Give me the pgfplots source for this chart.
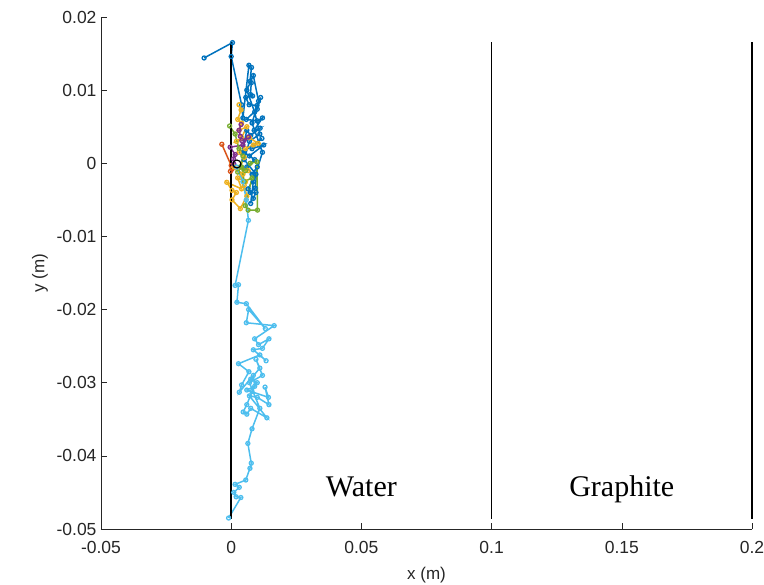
\documentclass[border=0pt]{standalone}
\usepackage{fontspec}
\setmainfont{Liberation Sans}
\newfontfamily\seriffont{Liberation Serif}
\usepackage{pgfplots}
\pgfplotsset{compat=1.18}

% MATLAB default line colours
\definecolor{mA}{rgb}{0,0.447,0.741}
\definecolor{mB}{rgb}{0.850,0.325,0.098}
\definecolor{mC}{rgb}{0.929,0.694,0.125}
\definecolor{mD}{rgb}{0.494,0.184,0.556}
\definecolor{mE}{rgb}{0.466,0.674,0.188}
\definecolor{mF}{rgb}{0.301,0.745,0.933}
\definecolor{axgray}{rgb}{0.15,0.15,0.15}

\begin{document}
\begin{tikzpicture}
\begin{axis}[
  at={(0,0)}, anchor=south west,
  scale only axis,
  width=651bp, height=512bp,
  xmin=-0.05, xmax=0.2, ymin=-0.05, ymax=0.02,
  axis x line*=bottom, axis y line*=left,
  axis line style={axgray, line width=0.6bp},
  tick align=inside,
  major tick length=6bp,
  tick style={axgray, line width=0.6bp},
  xtick={-0.05,0,0.05,0.1,0.15,0.2},
  ytick={-0.05,-0.04,-0.03,-0.02,-0.01,0,0.01,0.02},
  scaled ticks=false,
  /pgf/number format/fixed,
  /pgf/number format/precision=3,
  /pgf/number format/assume math mode=true,
  ticklabel style={font=\fontsize{17.5bp}{20bp}\selectfont, text=axgray},
  xticklabel style={yshift=-9bp},
  yticklabel style={xshift=-1bp},
  xlabel={x (m)}, ylabel={y (m)},
  label style={font=\fontsize{17bp}{20bp}\selectfont, text=axgray},
  x label style={at={(axis description cs:0.5,-0.0898)}, anchor=center},
  y label style={at={(axis description cs:-0.0937,0.5)}, anchor=center},
  clip=false,
  every axis plot/.append style={line width=1.5bp, mark=o, mark size=2bp, mark options={solid, line width=1.3bp}},
]

% track 1
\addplot[color=mA] coordinates {
(-0.0104,0.0144) (0.0005,0.0165) (0.0000,0.0146) (0.0040,0.0080) (0.0045,0.0062)
(0.0068,0.0134) (0.0078,0.0131) (0.0072,0.0112) (0.0077,0.0110) (0.0074,0.0094)
(0.0082,0.0092) (0.0056,0.0090) (0.0069,0.0080) (0.0099,0.0079) (0.0113,0.0090)
(0.0100,0.0074) (0.0058,0.0060) (0.0100,0.0058) (0.0120,0.0062) (0.0088,0.0045)
(0.0111,0.0048) (0.0075,0.0038) (0.0060,0.0045) (0.0041,0.0014) (0.0118,0.0034)
(0.0080,0.0020) (0.0125,0.0025) (0.0070,0.0010) (0.0050,0.0015) (0.0090,0.0005)
(0.0060,-0.0005) (0.0080,-0.0015) (0.0100,-0.0005) (0.0092,-0.0034) (0.0073,-0.0040)
(0.0095,-0.0040) (0.0085,-0.0048) (0.0065,-0.0035) (0.0095,-0.0015) (0.0050,0.0005)
(0.0070,0.0030) (0.0110,0.0040) (0.0090,0.0070) (0.0060,0.0100) (0.0085,0.0120)
(0.0105,0.0085) (0.0080,0.0055) (0.0120,0.0015) (0.0085,-0.0025) (0.0075,-0.0055)
};

% track 2
\addplot[color=mB] coordinates {
(-0.0036,0.0026) (0.0000,-0.0003) (0.0003,-0.0008) (-0.0003,-0.0011) (0.0010,-0.0005)
};

% track 3
\addplot[color=mC] coordinates {
(0.0030,0.0080) (0.0038,0.0073) (0.0025,0.0060) (0.0040,0.0055) (0.0030,0.0045)
(0.0060,0.0050) (0.0040,0.0035) (0.0020,0.0030) (0.0070,0.0035) (0.0104,0.0027)
(0.0085,0.0025) (0.0055,0.0020) (0.0030,0.0015) (0.0050,0.0008) (0.0035,-0.0005)
(0.0065,-0.0010) (0.0045,-0.0015) (0.0010,-0.0005) (0.0055,-0.0025) (0.0025,-0.0020)
(0.0040,-0.0035) (-0.0017,-0.0026) (0.0003,-0.0037) (0.0020,-0.0040) (0.0003,-0.0050)
(0.0035,-0.0062) (0.0060,-0.0045) (0.0050,-0.0030)
};

% track 4
\addplot[color=mD] coordinates {
(0.0038,0.0053) (0.0030,0.0045) (0.0035,0.0037) (0.0041,0.0031) (0.0066,0.0036)
(0.0045,0.0025) (-0.0004,0.0022) (0.0015,0.0012) (0.0009,0.0006) (0.0010,-0.0001)
};

% track 5
\addplot[color=mE] coordinates {
(-0.0006,0.0051) (0.0015,0.0040) (0.0030,0.0020) (0.0045,0.0010) (0.0035,-0.0005)
(0.0055,-0.0010) (0.0073,0.0000) (0.0099,0.0002) (0.0101,-0.0064) (0.0065,-0.0064)
(0.0054,-0.0058) (0.0080,-0.0020) (0.0050,-0.0025) (0.0040,-0.0005) (0.0025,-0.0012)
};

% track 6
\addplot[color=mF] coordinates {
(0.0020,-0.0005) (0.0045,-0.0025) (0.0058,-0.0050) (0.0066,-0.0078) (0.0015,-0.0167)
(0.0028,-0.0166) (0.0022,-0.0190) (0.0058,-0.0192) (0.0131,-0.0226) (0.0067,-0.0200)
(0.0058,-0.0218) (0.0165,-0.0222) (0.0090,-0.0240) (0.0105,-0.0248) (0.0145,-0.0240)
(0.0120,-0.0253) (0.0085,-0.0255) (0.0134,-0.0270) (0.0110,-0.0262) (0.0028,-0.0274)
(0.0068,-0.0285) (0.0040,-0.0303) (0.0031,-0.0313) (0.0085,-0.0290) (0.0090,-0.0305)
(0.0060,-0.0310) (0.0143,-0.0320) (0.0130,-0.0306) (0.0145,-0.0330) (0.0100,-0.0320)
(0.0070,-0.0318) (0.0137,-0.0348) (0.0075,-0.0335) (0.0060,-0.0343) (0.0046,-0.0340)
(0.0060,-0.0330) (0.0080,-0.0312) (0.0100,-0.0300) (0.0075,-0.0295) (0.0110,-0.0280)
(0.0095,-0.0268) (0.0120,-0.0290) (0.0070,-0.0300) (0.0110,-0.0335) (0.0080,-0.0363)
(0.0064,-0.0383) (0.0077,-0.0410) (0.0072,-0.0417) (0.0056,-0.0433) (0.0015,-0.0439)
(0.0031,-0.0443) (0.0010,-0.0450) (0.0019,-0.0456) (0.0037,-0.0457) (-0.0010,-0.0485)
};

% start point
\addplot[color=black, line width=1.2bp, mark=o, mark size=4bp, mark options={line width=1.2bp}, only marks] coordinates {(0.0022,-0.0001)};

% boundaries between media
\addplot[black, line width=1.6bp, mark=none] coordinates {(0,-0.0486) (0,0.0166)};
\addplot[black, line width=1.6bp, mark=none] coordinates {(0.1,-0.0486) (0.1,0.0166)};
\addplot[black, line width=1.6bp, mark=none] coordinates {(0.2,-0.0486) (0.2,0.0166)};

\node[anchor=base, font=\seriffont\fontsize{30bp}{34bp}\selectfont] at (axis cs:0.05,-0.0455) {Water};
\node[anchor=base, font=\seriffont\fontsize{30bp}{34bp}\selectfont] at (axis cs:0.15,-0.0455) {Graphite};
\end{axis}
\pgfresetboundingbox
\path (-101bp,-56bp) rectangle (663bp,529bp);
\end{tikzpicture}
\end{document}
